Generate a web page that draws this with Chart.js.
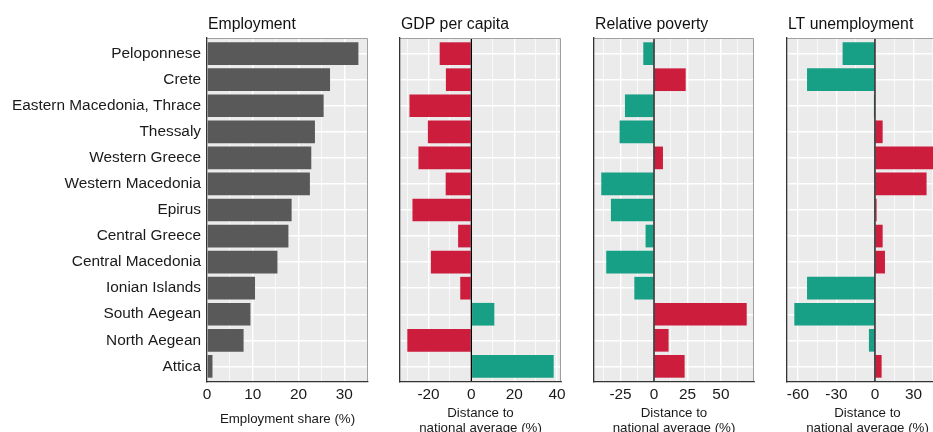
<!DOCTYPE html>
<html>
<head>
<meta charset="utf-8">
<script src="https://cdn.jsdelivr.net/npm/chart.js@4.4.1/dist/chart.umd.min.js"></script>
<style>
  html, body { margin: 0; padding: 0; background: #fff; }
  #figure { position: relative; width: 933px; height: 432px; overflow: hidden; background: #fff; }
  #figure canvas { position: absolute; top: 0; }
</style>
</head>
<body>
<div id="figure">
  <canvas id="employment" width="378" height="450" style="left:0px"></canvas>
  <canvas id="gdp" width="181" height="450" style="left:390px"></canvas>
  <canvas id="poverty" width="180" height="450" style="left:584px"></canvas>
  <canvas id="ltu" width="181" height="450" style="left:777px"></canvas>
</div>
<script>
// Greek regions, ranked by employment share
const regions = [
  'Peloponnese', 'Crete', 'Eastern Macedonia, Thrace', 'Thessaly', 'Western Greece',
  'Western Macedonia', 'Epirus', 'Central Greece', 'Central Macedonia', 'Ionian Islands',
  'South Aegean', 'North Aegean', 'Attica'
];

// Employment share (%)
const employmentShare = [33.1, 26.9, 25.5, 23.6, 22.8, 22.5, 18.5, 17.8, 15.4, 10.5, 9.5, 8.0, 1.2];

// Distance to national average (%)
const gdpPerCapita = [-14.8, -11.9, -28.9, -20.3, -24.7, -12.0, -27.5, -6.2, -18.9, -5.2, 10.7, -29.9, 38.4];
const relativePoverty = [-8.0, 23.7, -21.7, -25.7, 6.7, -39.4, -32.2, -6.3, -35.7, -14.7, 69.3, 10.9, 22.9];
const ltUnemployment = [-25.2, -52.9, -0.8, 6.0, 51.2, 40.2, 1.3, 6.0, 7.8, -52.9, -62.8, -4.7, 5.2];

// Labelled tick values on each x axis
const employmentTicks = [0, 10, 20, 30];
const gdpTicks = [-20, 0, 20, 40];
const povertyTicks = [-25, 0, 25, 50];
const ltuTicks = [-60, -30, 0, 30];

const FONT = "'Liberation Sans', Arial, sans-serif";
const RED = '#CC1D3D';
const TEAL = '#17A086';
const GREY = '#595959';

// 5% padding on both sides of the data range
function expandRange(values) {
  const lo = Math.min(...values), hi = Math.max(...values);
  const pad = 0.05 * (hi - lo);
  return [lo - pad, hi + pad];
}

// major ticks plus half-step minor grid positions inside [min, max]
function gridValues(majors, min, max) {
  const half = (majors[1] - majors[0]) / 2;
  const out = [];
  for (let v = majors[0] - 4 * half; v <= max + 1e-9; v += half) {
    if (v >= min - 1e-9) out.push(Math.round(v * 100) / 100);
  }
  return out;
}

const panelFrame = {
  id: 'panelFrame',
  beforeDraw(chart) {
    const { ctx, chartArea: a } = chart;
    ctx.save();
    ctx.fillStyle = '#EBEBEB';
    ctx.fillRect(a.left, a.top, a.right - a.left, a.bottom - a.top);
    ctx.restore();
  },
  afterDatasetsDraw(chart, args, opts) {
    const { ctx, chartArea: a } = chart;
    ctx.save();
    if (opts.zeroLine) {
      const x = chart.scales.x.getPixelForValue(0);
      ctx.strokeStyle = '#000';
      ctx.lineWidth = 1.3;
      ctx.beginPath();
      ctx.moveTo(x, a.top);
      ctx.lineTo(x, a.bottom);
      ctx.stroke();
    }
    // light frame on the top and right sides of the panel
    ctx.strokeStyle = '#A0A0A0';
    ctx.lineWidth = 1;
    ctx.beginPath();
    ctx.moveTo(a.left, a.top + 0.5);
    ctx.lineTo(a.right - 0.5, a.top + 0.5);
    ctx.lineTo(a.right - 0.5, a.bottom);
    ctx.stroke();
    // panel heading
    ctx.fillStyle = '#111';
    ctx.font = '15.8px ' + FONT;
    ctx.textAlign = 'left';
    ctx.textBaseline = 'alphabetic';
    ctx.fillText(opts.title, a.left + 1, 29);
    ctx.restore();
  }
};

function makePanel(id, cfg) {
  const [xmin, xmax] = cfg.range;
  const grid = gridValues(cfg.ticks, xmin, xmax);
  return new Chart(document.getElementById(id), {
    type: 'bar',
    data: {
      datasets: [{
        data: cfg.values.map((v, i) => ({ x: v, y: i + 1 })),
        backgroundColor: cfg.values.map(cfg.color),
        borderWidth: 0,
        categoryPercentage: 1,
        barPercentage: 0.87
      }]
    },
    options: {
      indexAxis: 'y',
      responsive: false,
      animation: false,
      devicePixelRatio: 1,
      layout: { padding: { top: 38, right: 10, bottom: 0, left: 0 } },
      plugins: {
        legend: { display: false },
        tooltip: { enabled: false },
        title: { display: false },
        panelFrame: { title: cfg.title, zeroLine: cfg.zeroLine }
      },
      scales: {
        y: {
          type: 'linear',
          reverse: true,
          offset: false,
          min: 0.4,
          max: regions.length + 0.6,
          afterBuildTicks: s => { s.ticks = regions.map((_, i) => ({ value: i + 1 })); },
          afterFit: s => { s.width = cfg.yWidth; },
          grid: { color: '#FFFFFF', lineWidth: 1.4, drawTicks: false, offset: false },
          border: { display: true, color: '#333333', width: 1.3, z: 1 },
          ticks: {
            display: cfg.showRegions,
            autoSkip: false,
            padding: 6,
            color: '#1A1A1A',
            font: { family: FONT, size: 15.4 },
            callback: v => regions[Math.round(v) - 1]
          }
        },
        x: {
          type: 'linear',
          min: xmin,
          max: xmax,
          afterBuildTicks: s => { s.ticks = grid.map(v => ({ value: v })); },
          afterFit: s => { s.height = 68; },
          grid: {
            color: '#FFFFFF',
            drawTicks: false,
            lineWidth: c => cfg.ticks.includes(c.tick.value) ? 1.4 : 0.7
          },
          border: { display: true, color: '#333333', width: 1.3, z: 1 },
          ticks: {
            autoSkip: false,
            maxRotation: 0,
            padding: 4,
            color: '#1A1A1A',
            font: { family: FONT, size: 15.4 },
            callback: v => cfg.ticks.includes(v) ? String(v) : ''
          },
          title: {
            display: true,
            text: cfg.axisTitle,
            color: '#1A1A1A',
            font: { family: FONT, size: 13.3, lineHeight: 1.13 },
            padding: { top: 0, bottom: cfg.titlePad }
          }
        }
      }
    },
    plugins: [panelFrame]
  });
}

const distanceTitle = ['Distance to', 'national average (%)'];
const goodWhenHigh = v => v >= 0 ? TEAL : RED;
const goodWhenLow = v => v > 0 ? RED : TEAL;

makePanel('employment', {
  values: employmentShare, ticks: employmentTicks, range: [0, 35.2],
  color: () => GREY, title: 'Employment', axisTitle: 'Employment share (%)',
  titlePad: 23.5, yWidth: 207, showRegions: true, zeroLine: false
});
makePanel('gdp', {
  values: gdpPerCapita, ticks: gdpTicks, range: expandRange(gdpPerCapita),
  color: goodWhenHigh, title: 'GDP per capita', axisTitle: distanceTitle,
  titlePad: 14.5, yWidth: 10, showRegions: false, zeroLine: true
});
makePanel('poverty', {
  values: relativePoverty, ticks: povertyTicks, range: expandRange(relativePoverty),
  color: goodWhenLow, title: 'Relative poverty', axisTitle: distanceTitle,
  titlePad: 14.5, yWidth: 10, showRegions: false, zeroLine: true
});
makePanel('ltu', {
  values: ltUnemployment, ticks: ltuTicks, range: expandRange(ltUnemployment),
  color: goodWhenLow, title: 'LT unemployment', axisTitle: distanceTitle,
  titlePad: 14.5, yWidth: 10, showRegions: false, zeroLine: true
});
</script>
</body>
</html>
